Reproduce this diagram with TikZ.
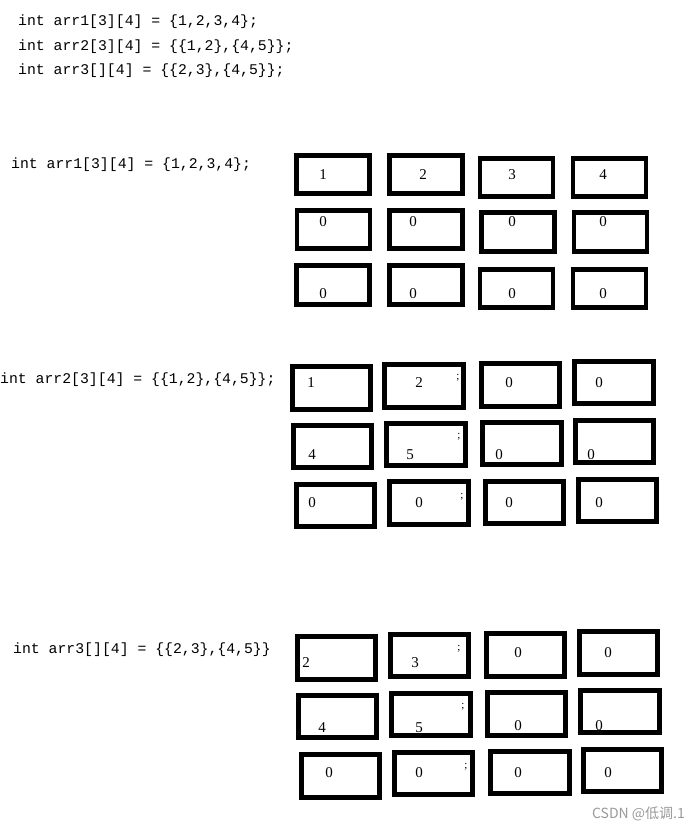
\documentclass[tikz,border=0pt]{standalone}
\usepackage{fontspec}
\setmainfont{Liberation Serif}
\setmonofont{Liberation Mono}
\newfontfamily\cjk{Noto Sans CJK SC}
\usepackage{tikz}
\usetikzlibrary{positioning}
\tikzstyle{cella} = [rectangle, draw=black, line width=4.6pt, inner sep=0pt,
minimum width=73pt, minimum height=38.5pt]
\tikzstyle{cellb} = [rectangle, draw=black, line width=4.6pt, inner sep=0pt,
minimum width=78.5pt, minimum height=42.5pt]
\tikzstyle{code} = [anchor=west, inner sep=0pt, font=\ttfamily\fontsize{14.8}{17}\selectfont]
\tikzstyle{num} = [inner sep=0pt, font=\fontsize{15}{18}\selectfont]
\tikzstyle{semi} = [inner sep=0pt, font=\fontsize{11}{12}\selectfont]

\begin{document}
\begin{tikzpicture}[x=1pt, y=-1pt]
						\useasboundingbox (0,0) rectangle (699,830);
						% le tre dichiarazioni
						\node (t1) at (18,22) [code] {int arr1[3][4] = \{1,2,3,4\};};
						\node (t2) at (18,47) [code] {int arr2[3][4] = \{\{1,2\},\{4,5\}\};};
						\node (t3) at (18,71) [code] {int arr3[][4] = \{\{2,3\},\{4,5\}\};};
						% arr1
						\node (d1) at (11,165) [code] {int arr1[3][4] = \{1,2,3,4\};};
						\node (a11) at (333,174.5) [cella] {};
						\node (a12) at (426,174.5) [cella] {};
						\node (a13) at (516.5,177.5) [cella] {};
						\node (a14) at (609.5,177.5) [cella] {};
						\node (a21) at (333.5,229.5) [cella] {};
						\node (a22) at (426,229.5) [cella] {};
						\node (a23) at (518,232) [cella] {};
						\node (a24) at (610.5,232) [cella] {};
						\node (a31) at (333,285) [cella] {};
						\node (a32) at (426,285) [cella] {};
						\node (a33) at (516.5,288.5) [cella] {};
						\node (a34) at (609.5,288.5) [cella] {};
						\node (va11) at (323,175) [num] {1};
						\node (va12) at (423,175) [num] {2};
						\node (va13) at (512,175) [num] {3};
						\node (va14) at (603,175) [num] {4};
						\node (va21) at (323,222) [num] {0};
						\node (va22) at (413,222) [num] {0};
						\node (va23) at (512,222) [num] {0};
						\node (va24) at (603,222) [num] {0};
						\node (va31) at (323,294) [num] {0};
						\node (va32) at (413,294) [num] {0};
						\node (va33) at (512,294) [num] {0};
						\node (va34) at (603,294) [num] {0};
						% arr2
						\node (d2) at (0,380) [code] {int arr2[3][4] = \{\{1,2\},\{4,5\}\};};
						\node (b11) at (331.5,388) [cellb] {};
						\node (b12) at (424,386) [cellb] {};
						\node (b13) at (520.5,385) [cellb] {};
						\node (b14) at (614,382.5) [cellb] {};
						\node (b21) at (332.5,446.5) [cellb] {};
						\node (b22) at (426,444.5) [cellb] {};
						\node (b23) at (522,443.5) [cellb] {};
						\node (b24) at (614.5,441.5) [cellb] {};
						\node (b31) at (335.5,505.5) [cellb] {};
						\node (b32) at (429,503) [cellb] {};
						\node (b33) at (524.5,502.5) [cellb] {};
						\node (b34) at (617.5,500.5) [cellb] {};
						\node (vb11) at (311,383) [num] {1};
						\node (vb12) at (419,383) [num] {2};
						\node (vb13) at (509,383) [num] {0};
						\node (vb14) at (599,383) [num] {0};
						\node (vb21) at (312,455) [num] {4};
						\node (vb22) at (410,455) [num] {5};
						\node (vb23) at (499,455) [num] {0};
						\node (vb24) at (591,455) [num] {0};
						\node (vb31) at (312,503) [num] {0};
						\node (vb32) at (419,503) [num] {0};
						\node (vb33) at (509,503) [num] {0};
						\node (vb34) at (599,503) [num] {0};
						\node (sb1) at (458,378) [semi] {;};
						\node (sb2) at (459,437) [semi] {;};
						\node (sb3) at (462,497) [semi] {;};
						% arr3
						\node (d3) at (13,650) [code] {int arr3[][4] = \{\{2,3\},\{4,5\}\}};
						\node (c11) at (336.5,658) [cellb] {};
						\node (c12) at (429.5,655.5) [cellb] {};
						\node (c13) at (525.5,655) [cellb] {};
						\node (c14) at (618.5,653) [cellb] {};
						\node (c21) at (337.5,716.5) [cellb] {};
						\node (c22) at (431,714.5) [cellb] {};
						\node (c23) at (526.5,714) [cellb] {};
						\node (c24) at (620,711.5) [cellb] {};
						\node (c31) at (340.5,776) [cellb] {};
						\node (c32) at (433.5,773.5) [cellb] {};
						\node (c33) at (530,772.5) [cellb] {};
						\node (c34) at (622.5,770.5) [cellb] {};
						\node (vc11) at (306,663) [num] {2};
						\node (vc12) at (415,663) [num] {3};
						\node (vc13) at (518,653) [num] {0};
						\node (vc14) at (608,653) [num] {0};
						\node (vc21) at (322,728) [num] {4};
						\node (vc22) at (419,728) [num] {5};
						\node (vc23) at (518,726) [num] {0};
						\node (vc24) at (599,726) [num] {0};
						\node (vc31) at (329,773) [num] {0};
						\node (vc32) at (419,773) [num] {0};
						\node (vc33) at (518,773) [num] {0};
						\node (vc34) at (608,773) [num] {0};
						\node (sc1) at (459,649) [semi] {;};
						\node (sc2) at (463,707) [semi] {;};
						\node (sc3) at (466,767) [semi] {;};
						\node (wm) at (685,814) [anchor=east, inner sep=0pt, text=black!40, font=\cjk\fontsize{14}{16}\selectfont] {CSDN @低调.1};
					\end{tikzpicture}
\end{document}
